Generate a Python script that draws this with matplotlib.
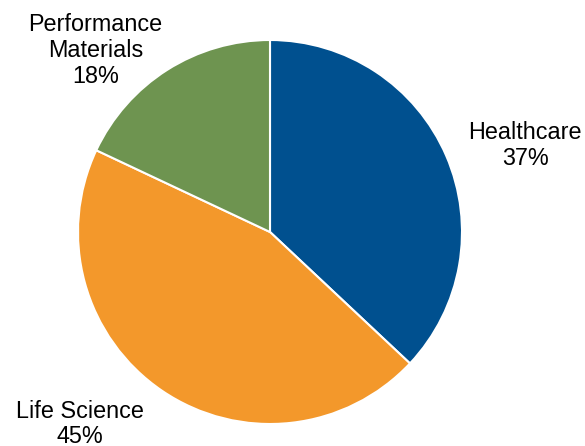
import matplotlib.pyplot as plt

plt.rcParams['font.family'] = ['Liberation Sans', 'DejaVu Sans']

segments = ["Healthcare", "Life Science", "Performance\nMaterials"]
shares = [37, 45, 18]
colours = ["#00508F", "#F3982B", "#6E9450"]
# label centres relative to the pie (radius 1)
label_pos = [(1.33, 0.45), (-0.99, -1.0), (-0.91, 0.945)]

fig = plt.figure(figsize=(5.85, 4.46), dpi=100)
# pie centre at (270, 232) px, radius 192 px
ax = fig.add_axes([(270 - 192) / 585, (446 - 424) / 446, 384 / 585, 384 / 446])

ax.pie(shares, colors=colours, startangle=90, counterclock=False,
       wedgeprops=dict(edgecolor="white", linewidth=1.5))
ax.set_xlim(-1, 1)
ax.set_ylim(-1, 1)
ax.set_aspect("equal")

for name, share, (x, y) in zip(segments, shares, label_pos):
    ax.text(x, y, "{}\n{}%".format(name, share), ha="center", va="center",
            fontsize=16.8, linespacing=1.15, clip_on=False)

fig.savefig("out.png", dpi=100)
